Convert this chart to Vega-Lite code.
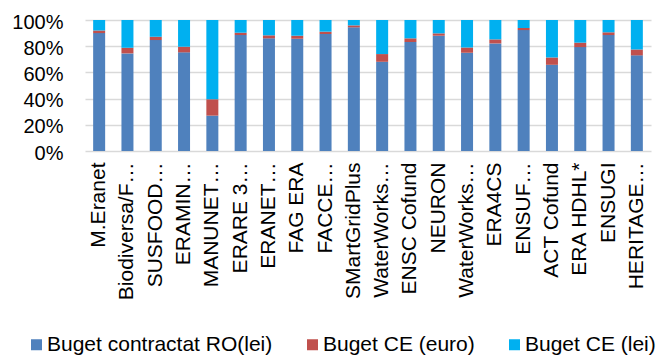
{
  "$schema": "https://vega.github.io/schema/vega-lite/v6.json",
  "autosize": "none",
  "width": 566,
  "height": 131,
  "padding": {"left": 85, "top": 20, "right": 10, "bottom": 205},
  "background": "white",
  "config": {
    "view": {"stroke": null},
    "font": "Liberation Sans",
    "axis": {"labelFont": "Liberation Sans", "labelColor": "#000"},
    "legend": {"labelFont": "Liberation Sans", "labelColor": "#000"}
  },
  "data": {
    "values": [
      {"proiect": "M.Eranet", "serie": "Buget contractat RO(lei)", "v": 90},
      {"proiect": "M.Eranet", "serie": "Buget CE (euro)", "v": 2},
      {"proiect": "M.Eranet", "serie": "Buget CE (lei)", "v": 8},
      {"proiect": "Biodiversa/F…", "serie": "Buget contractat RO(lei)", "v": 74.5},
      {"proiect": "Biodiversa/F…", "serie": "Buget CE (euro)", "v": 4.3},
      {"proiect": "Biodiversa/F…", "serie": "Buget CE (lei)", "v": 21.2},
      {"proiect": "SUSFOOD…", "serie": "Buget contractat RO(lei)", "v": 84.7},
      {"proiect": "SUSFOOD…", "serie": "Buget CE (euro)", "v": 2.5},
      {"proiect": "SUSFOOD…", "serie": "Buget CE (lei)", "v": 12.8},
      {"proiect": "ERAMIN…", "serie": "Buget contractat RO(lei)", "v": 75.3},
      {"proiect": "ERAMIN…", "serie": "Buget CE (euro)", "v": 4.3},
      {"proiect": "ERAMIN…", "serie": "Buget CE (lei)", "v": 20.4},
      {"proiect": "MANUNET…", "serie": "Buget contractat RO(lei)", "v": 27},
      {"proiect": "MANUNET…", "serie": "Buget CE (euro)", "v": 12.5},
      {"proiect": "MANUNET…", "serie": "Buget CE (lei)", "v": 60.5},
      {"proiect": "ERARE 3…", "serie": "Buget contractat RO(lei)", "v": 88.5},
      {"proiect": "ERARE 3…", "serie": "Buget CE (euro)", "v": 1.8},
      {"proiect": "ERARE 3…", "serie": "Buget CE (lei)", "v": 9.7},
      {"proiect": "ERANET…", "serie": "Buget contractat RO(lei)", "v": 86},
      {"proiect": "ERANET…", "serie": "Buget CE (euro)", "v": 2.3},
      {"proiect": "ERANET…", "serie": "Buget CE (lei)", "v": 11.7},
      {"proiect": "FAG ERA", "serie": "Buget contractat RO(lei)", "v": 85.7},
      {"proiect": "FAG ERA", "serie": "Buget CE (euro)", "v": 2.3},
      {"proiect": "FAG ERA", "serie": "Buget CE (lei)", "v": 12},
      {"proiect": "FACCE…", "serie": "Buget contractat RO(lei)", "v": 89.3},
      {"proiect": "FACCE…", "serie": "Buget CE (euro)", "v": 1.8},
      {"proiect": "FACCE…", "serie": "Buget CE (lei)", "v": 8.9},
      {"proiect": "SMartGridPlus", "serie": "Buget contractat RO(lei)", "v": 94.4},
      {"proiect": "SMartGridPlus", "serie": "Buget CE (euro)", "v": 1.5},
      {"proiect": "SMartGridPlus", "serie": "Buget CE (lei)", "v": 4.1},
      {"proiect": "WaterWorks…", "serie": "Buget contractat RO(lei)", "v": 68.1},
      {"proiect": "WaterWorks…", "serie": "Buget CE (euro)", "v": 5.9},
      {"proiect": "WaterWorks…", "serie": "Buget CE (lei)", "v": 26},
      {"proiect": "ENSC Cofund", "serie": "Buget contractat RO(lei)", "v": 83.2},
      {"proiect": "ENSC Cofund", "serie": "Buget CE (euro)", "v": 2.8},
      {"proiect": "ENSC Cofund", "serie": "Buget CE (lei)", "v": 14},
      {"proiect": "NEURON", "serie": "Buget contractat RO(lei)", "v": 88},
      {"proiect": "NEURON", "serie": "Buget CE (euro)", "v": 1.8},
      {"proiect": "NEURON", "serie": "Buget CE (lei)", "v": 10.2},
      {"proiect": "WaterWorks… ", "serie": "Buget contractat RO(lei)", "v": 75},
      {"proiect": "WaterWorks… ", "serie": "Buget CE (euro)", "v": 4},
      {"proiect": "WaterWorks… ", "serie": "Buget CE (lei)", "v": 21},
      {"proiect": "ERA4CS", "serie": "Buget contractat RO(lei)", "v": 82.1},
      {"proiect": "ERA4CS", "serie": "Buget CE (euro)", "v": 3.1},
      {"proiect": "ERA4CS", "serie": "Buget CE (lei)", "v": 14.8},
      {"proiect": "ENSUF…", "serie": "Buget contractat RO(lei)", "v": 92.3},
      {"proiect": "ENSUF…", "serie": "Buget CE (euro)", "v": 1.6},
      {"proiect": "ENSUF…", "serie": "Buget CE (lei)", "v": 6.1},
      {"proiect": "ACT Cofund", "serie": "Buget contractat RO(lei)", "v": 65.8},
      {"proiect": "ACT Cofund", "serie": "Buget CE (euro)", "v": 5.6},
      {"proiect": "ACT Cofund", "serie": "Buget CE (lei)", "v": 28.6},
      {"proiect": "ERA HDHL*", "serie": "Buget contractat RO(lei)", "v": 79.3},
      {"proiect": "ERA HDHL*", "serie": "Buget CE (euro)", "v": 3.4},
      {"proiect": "ERA HDHL*", "serie": "Buget CE (lei)", "v": 17.3},
      {"proiect": "ENSUGI", "serie": "Buget contractat RO(lei)", "v": 88.5},
      {"proiect": "ENSUGI", "serie": "Buget CE (euro)", "v": 2.1},
      {"proiect": "ENSUGI", "serie": "Buget CE (lei)", "v": 9.4},
      {"proiect": "HERITAGE…", "serie": "Buget contractat RO(lei)", "v": 73},
      {"proiect": "HERITAGE…", "serie": "Buget CE (euro)", "v": 4.5},
      {"proiect": "HERITAGE…", "serie": "Buget CE (lei)", "v": 22.5}
    ]
  },
  "transform": [
    {"calculate": "indexof(['Buget contractat RO(lei)', 'Buget CE (euro)', 'Buget CE (lei)'], datum.serie)", "as": "ordine"}
  ],
  "mark": {"type": "bar", "size": 12},
  "encoding": {
    "x": {
      "field": "proiect",
      "type": "nominal",
      "sort": null,
      "scale": {"paddingInner": 0, "paddingOuter": 0},
      "axis": {
        "title": null,
        "labelAngle": -90,
        "labelFontSize": 21,
        "labelPadding": 11,
        "labelLimit": 0,
        "ticks": false,
        "domain": false,
        "grid": false
      }
    },
    "y": {
      "field": "v",
      "type": "quantitative",
      "stack": "normalize",
      "scale": {"domain": [0, 1], "nice": false},
      "axis": {
        "title": null,
        "format": ".0%",
        "values": [0, 0.2, 0.4, 0.6, 0.8, 1],
        "labelFontSize": 20,
        "labelPadding": 22,
        "labelOffset": 2,
        "ticks": false,
        "domain": false,
        "gridColor": "#D9D9D9",
        "gridWidth": 1.5
      }
    },
    "order": {"field": "ordine", "type": "quantitative", "sort": "ascending"},
    "color": {
      "field": "serie",
      "type": "nominal",
      "sort": ["Buget contractat RO(lei)", "Buget CE (euro)", "Buget CE (lei)"],
      "scale": {
        "domain": ["Buget contractat RO(lei)", "Buget CE (euro)", "Buget CE (lei)"],
        "range": ["#4F81BD", "#C0504D", "#00B0F0"]
      },
      "legend": {
        "title": null,
        "orient": "none",
        "direction": "horizontal",
        "legendX": -59,
        "legendY": 314,
        "symbolType": "square",
        "symbolSize": 121,
        "symbolStrokeWidth": 0,
        "labelFontSize": 21,
        "labelOffset": 0,
        "columnPadding": 29,
        "labelLimit": 0
      }
    }
  }
}
